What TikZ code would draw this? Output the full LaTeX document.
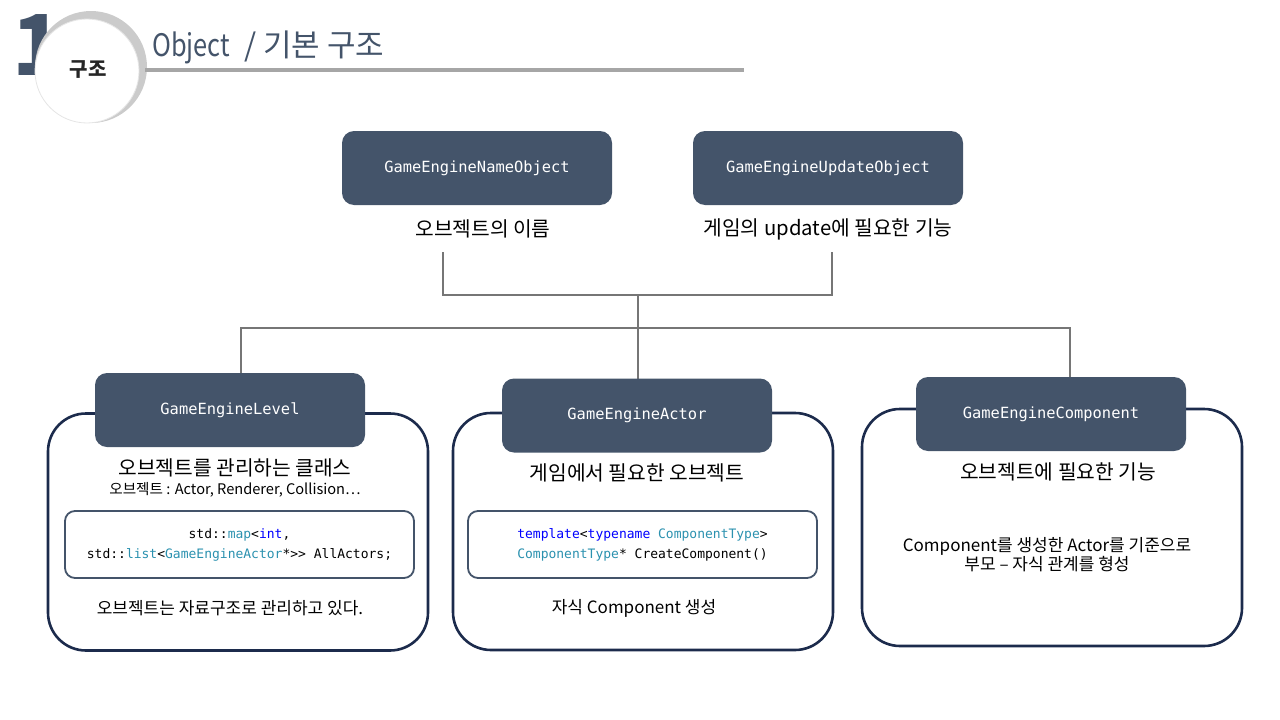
\documentclass[tikz,border=0pt]{standalone}
\usepackage{fontspec}
\usepackage{graphicx}
\setmainfont{Noto Sans CJK KR}
\setmonofont{DejaVu Sans Mono}
\usetikzlibrary{positioning}

\definecolor{slate}{HTML}{44546A}
\definecolor{navy}{HTML}{1C2B4C}
\definecolor{wiregray}{HTML}{767676}
\definecolor{rulegray}{HTML}{A6A6A6}
\definecolor{ringgray}{HTML}{CBCBCB}
\definecolor{kwblue}{HTML}{0000FF}
\definecolor{tyteal}{HTML}{2B91AF}

\newcommand{\headfont}{\ttfamily\fontsize{15.4}{18}\selectfont}
\newcommand{\codefont}{\ttfamily\fontsize{13}{20}\selectfont}
\newcommand{\descfont}{\fontsize{20.3}{24}\selectfont}
\newcommand{\notefont}{\fontsize{17}{19}\selectfont}
\newcommand{\kw}[1]{\textcolor{kwblue}{#1}}
\newcommand{\ty}[1]{\textcolor{tyteal}{#1}}

\tikzset{
  headbox/.style={fill=slate, rounded corners=12pt, minimum width=270pt,
    minimum height=74pt, text=white, font=\headfont},
  panel/.style={draw=navy, line width=2.6pt, rounded corners=38pt,
    minimum width=380pt, minimum height=237pt},
  codebox/.style={draw=slate, line width=1.8pt, rounded corners=10pt,
    minimum width=349pt, minimum height=67pt, align=center, font=\codefont},
  wire/.style={draw=wiregray, line width=2.6pt},
  desc/.style={font=\descfont, align=center, inner sep=0pt},
  note/.style={font=\notefont, align=center, inner sep=0pt},
}

\begin{document}
\begin{tikzpicture}[x=1pt,y=-1pt]
\useasboundingbox (0,0) rectangle (1280,720);

% title badge
\node[anchor=base west, inner sep=0pt, text=slate,
  font=\fontsize{84}{84}\selectfont\bfseries] (bigOne) at (12,75) {1};
\fill[ringgray] (91,67) circle (56);
\fill[white, draw=gray!20, line width=0.8pt] (87,71) circle (52);
\node[font=\fontsize{20}{24}\selectfont\bfseries, text=black!85] (badge) at (88,70) {구조};
\node[anchor=base west, inner sep=0pt, text=slate,
  font=\fontsize{31}{36}\selectfont] (title) at (152,56) {\scalebox{0.82}[1]{Object}\hspace{14pt}/ 기본 구조};
\draw[rulegray, line width=4pt] (145,70) -- (744,70);

% upper objects
\node[headbox] (nameObj) at (477,168) {GameEngineNameObject};
\node[headbox] (updObj) at (828,168) {GameEngineUpdateObject};
\node[desc] (nameLbl) at (483,229) {오브젝트의 이름};
\node[desc] (updLbl) at (828,229) {게임의 update에 필요한 기능};

% connectors
\coordinate (nameTap) at (443,252);
\coordinate (updTap) at (832,252);
\coordinate (busUp) at (638,295);
\coordinate (levelTap) at (241,328);
\coordinate (compTap) at (1070,328);
\draw[wire] (nameTap) |- (busUp) -| (updTap);
\draw[wire] (busUp) -- (busUp |- 0,380);
\draw[wire] (levelTap |- 0,375) -- (levelTap) -- (compTap) -- (compTap |- 0,378);

% panels
\node[panel] (levelPanel) at (238,532) {};
\node[panel] (actorPanel) at (643,531.5) {};
\node[panel] (compPanel) at (1052,527.5) {};
\node[headbox] (levelHead) at (230,410) {GameEngineLevel};
\node[headbox] (actorHead) at (637,415.5) {GameEngineActor};
\node[headbox] (compHead) at (1051,414) {GameEngineComponent};

% level
\node[desc] (lvlTitle) at (235,468) {오브젝트를 관리하는 클래스};
\node[desc, font=\fontsize{14.6}{17}\selectfont] (lvlSub) at (235,490) {오브젝트 : Actor, Renderer, Collision…};
\node[codebox] (lvlCode) at (239.5,544.5) {std::\ty{map}<\kw{int},\\
  std::\ty{list}<\ty{GameEngineActor}*>> AllActors;};
\node[note] (lvlNote) at (230,608) {오브젝트는 자료구조로 관리하고 있다.};

% actor
\node[desc] (actTitle) at (637,473) {게임에서 필요한 오브젝트};
\node[codebox] (actCode) at (642.5,544.5) {\kw{template}<\kw{typename} \ty{ComponentType}>\\
  \ty{ComponentType}* CreateComponent()};
\node[note] (actNote) at (634,608) {자식 Component 생성};

% component
\node[desc] (compTitle) at (1058,472) {오브젝트에 필요한 기능};
\node[note] (compNote) at (1047,555) {Component를 생성한 Actor를 기준으로\\
  부모 – 자식 관계를 형성};
\end{tikzpicture}
\end{document}
